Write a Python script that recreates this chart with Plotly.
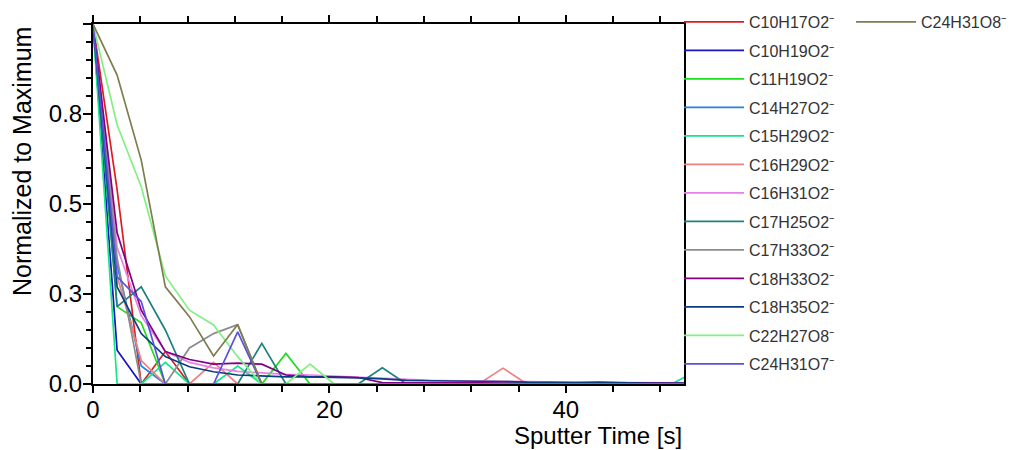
import plotly.graph_objects as go

# Sputter time of each depth-profile cycle [s]
sputter_time = [0, 2.04, 4.08, 6.12, 8.16, 10.2, 12.24, 14.28, 16.32, 18.36, 20.4, 22.44,
                24.48, 26.52, 28.56, 30.6, 32.64, 34.68, 36.72, 38.76, 40.8, 42.84,
                44.88, 46.92, 48.96, 51.0]

# Intensities normalised to each ion's maximum
c10h17o2 = [1.0, 0.54, 0.0, 0.09, 0.0, 0.0, 0.0, 0.0, 0.0, 0.0, 0.0, 0.0, 0.0,
            0.0, 0.0, 0.0, 0.0, 0.0, 0.0, 0.0, 0.0, 0.0, 0.0, 0.0, 0.0, 0.0]
c10h19o2 = [1.0, 0.094, 0.0, 0.0, 0.0, 0.0, 0.0, 0.0, 0.0, 0.0, 0.0, 0.0, 0.0,
            0.0, 0.0, 0.0, 0.0, 0.0, 0.0, 0.0, 0.0, 0.0, 0.0, 0.0, 0.0, 0.0]
c11h19o2 = [1.0, 0.215, 0.17, 0.0, 0.0, 0.0, 0.0, 0.0, 0.085, 0.0, 0.0, 0.0, 0.0,
            0.0, 0.0, 0.0, 0.0, 0.0, 0.0, 0.0, 0.0, 0.0, 0.0, 0.0, 0.0, 0.0]
c14h27o2 = [1.0, 0.33, 0.05, 0.0, 0.0, 0.0, 0.0, 0.0, 0.0, 0.0, 0.0, 0.0, 0.0,
            0.0, 0.0, 0.0, 0.0, 0.0, 0.0, 0.0, 0.0, 0.0, 0.0, 0.0, 0.0, 0.0]
c15h29o2 = [1.0, 0.0, 0.0, 0.06, 0.0, 0.0, 0.05, 0.0, 0.0, 0.0, 0.0, 0.0, 0.0,
            0.0, 0.0, 0.0, 0.0, 0.0, 0.0, 0.0, 0.0, 0.0, 0.0, 0.0, 0.0, 0.035]
c16h29o2 = [1.0, 0.3, 0.065, 0.0, 0.0, 0.06, 0.0, 0.0, 0.0, 0.0, 0.0, 0.0, 0.0,
            0.0, 0.0, 0.0, 0.0, 0.044, 0.0, 0.0, 0.0, 0.0, 0.0, 0.0, 0.0, 0.0]
c16h31o2 = [1.0, 0.38, 0.19, 0.09, 0.06, 0.045, 0.035, 0.03, 0.027, 0.025, 0.022,
            0.02, 0.015, 0.012, 0.01, 0.009, 0.008, 0.006, 0.005, 0.005, 0.004,
            0.004, 0.004, 0.003, 0.003, 0.003]
c17h25o2 = [1.0, 0.215, 0.27, 0.15, 0.0, 0.0, 0.0, 0.113, 0.0, 0.0, 0.0, 0.0, 0.045,
            0.0, 0.0, 0.0, 0.0, 0.0, 0.0, 0.0, 0.0, 0.0, 0.0, 0.0, 0.0, 0.0]
c17h33o2 = [1.0, 0.35, 0.0, 0.0, 0.1, 0.14, 0.165, 0.0, 0.0, 0.0, 0.0, 0.0, 0.0,
            0.0, 0.0, 0.0, 0.0, 0.0, 0.0, 0.0, 0.0, 0.0, 0.0, 0.0, 0.0, 0.0]
c18h33o2 = [1.0, 0.42, 0.205, 0.09, 0.068, 0.055, 0.058, 0.055, 0.025, 0.02, 0.02,
            0.018, 0.004, 0.003, 0.003, 0.003, 0.003, 0.002, 0.002, 0.003, 0.002,
            0.002, 0.003, 0.002, 0.002, 0.002]
c18h35o2 = [1.0, 0.27, 0.14, 0.076, 0.048, 0.034, 0.025, 0.022, 0.02, 0.02, 0.019,
            0.017, 0.014, 0.01, 0.009, 0.009, 0.009, 0.007, 0.005, 0.004, 0.004,
            0.005, 0.003, 0.002, 0.002, 0.002]
c22h27o8 = [1.0, 0.72, 0.548, 0.3, 0.205, 0.164, 0.076, 0.0, 0.0, 0.055, 0.0, 0.0,
            0.0, 0.0, 0.0, 0.0, 0.0, 0.0, 0.0, 0.0, 0.0, 0.0, 0.0, 0.0, 0.0, 0.0]
c24h31o7 = [1.0, 0.298, 0.229, 0.0, 0.0, 0.0, 0.145, 0.0, 0.0, 0.0, 0.0, 0.0, 0.0,
            0.0, 0.0, 0.0, 0.0, 0.0, 0.0, 0.0, 0.0, 0.0, 0.0, 0.0, 0.0, 0.0]
c24h31o8 = [1.0, 0.858, 0.622, 0.27, 0.187, 0.078, 0.165, 0.0, 0.0, 0.0, 0.0, 0.0,
            0.0, 0.0, 0.0, 0.0, 0.0, 0.0, 0.0, 0.0, 0.0, 0.0, 0.0, 0.0, 0.0, 0.0]

ion_names = ["C10H17O2⁻", "C10H19O2⁻", "C11H19O2⁻", "C14H27O2⁻", "C15H29O2⁻",
             "C16H29O2⁻", "C16H31O2⁻", "C17H25O2⁻", "C17H33O2⁻", "C18H33O2⁻",
             "C18H35O2⁻", "C22H27O8⁻", "C24H31O7⁻", "C24H31O8⁻"]
ion_series = [c10h17o2, c10h19o2, c11h19o2, c14h27o2, c15h29o2, c16h29o2, c16h31o2,
              c17h25o2, c17h33o2, c18h33o2, c18h35o2, c22h27o8, c24h31o7, c24h31o8]
ion_colors = ["#dc1e1e", "#1414c0", "#1edc1e", "#1e82e6", "#14e68c", "#f08080",
              "#e682e6", "#1e8080", "#8c8c8c", "#820082", "#0a3c82", "#82f082",
              "#5a50dc", "#7d7d50"]

# y ticks every quarter, labelled to one decimal
y_tickvals = [0, 0.25, 0.5, 0.75, 1.0]
y_ticktext = ["0.0", "0.3", "0.5", "0.8", ""]

FONT = "Liberation Sans, Arial, sans-serif"
W, H = 1015, 450
ROW = 28.5  # legend row pitch in px


def legend_for(i):
    # first column holds 13 entries split over two stacked legend boxes,
    # the last ion sits alone in a second column
    if i == len(ion_names) - 1:
        return "legend2"
    return "legend" if i < 7 else "legend3"


fig = go.Figure()
for i, (name, ys, col) in enumerate(zip(ion_names, ion_series, ion_colors)):
    fig.add_trace(go.Scatter(
        x=sputter_time, y=ys, mode="lines", name=name,
        line=dict(color=col, width=1.7),
        legend=legend_for(i), legendgroup=name,
    ))

legend_common = dict(
    font=dict(family=FONT, size=16, color="#333333"),
    bgcolor="rgba(0,0,0,0)", borderwidth=0,
    itemwidth=60, traceorder="grouped", tracegroupgap=4.7,
    xref="container", yref="container", xanchor="left", yanchor="top",
    itemclick=False, itemdoubleclick=False,
)

top0 = 5
fig.update_layout(
    width=W, height=H,
    margin=dict(l=93, r=331, t=24, b=66, autoexpand=False),
    paper_bgcolor="white", plot_bgcolor="white",
    font=dict(family=FONT, size=24, color="#000000"),
    showlegend=True,
    legend=dict(x=679 / W, y=1 - top0 / H, **legend_common),
    legend3=dict(x=679 / W, y=1 - (top0 + 7 * ROW) / H, **legend_common),
    legend2=dict(x=851 / W, y=1 - top0 / H, **legend_common),
    xaxis=dict(
        range=[0, 50], showgrid=False, zeroline=False,
        tickmode="array", tickvals=[0, 20, 40], ticktext=["0", "20", "40"],
        ticks="outside", ticklen=7, tickwidth=2, tickcolor="black",
        ticklabelstandoff=-4,
        minor=dict(tickmode="array", tickvals=[4, 8, 12, 16, 24, 28, 32, 36, 44, 48],
                   ticks="outside", ticklen=6, tickwidth=1.5, tickcolor="black"),
        showline=True, linecolor="black", linewidth=2, mirror="ticks",
        tickfont=dict(family=FONT, size=24, color="#000000"),
    ),
    yaxis=dict(
        range=[0, 1.0], showgrid=False, zeroline=False,
        tickmode="array", tickvals=y_tickvals, ticktext=y_ticktext,
        ticks="outside", ticklen=8, tickwidth=2, tickcolor="black",
        ticklabelstandoff=-4,
        minor=dict(dtick=0.05, ticks="outside", ticklen=5, tickwidth=1.5,
                   tickcolor="black"),
        showline=True, linecolor="black", linewidth=2, mirror=True,
        tickfont=dict(family=FONT, size=24, color="#000000"),
    ),
    annotations=[
        dict(text="Sputter Time [s]", xref="paper", yref="paper", x=1.0,
             y=(384 - 435) / 360, xanchor="right", yanchor="middle", showarrow=False,
             font=dict(family=FONT, size=24, color="#000000")),
        dict(text="Normalized to Maximum", xref="paper", yref="paper",
             x=-0.120, y=1.0, xanchor="center", yanchor="top", textangle=-90,
             showarrow=False, font=dict(family=FONT, size=25, color="#000000")),
    ],
)

fig.write_html("out.html")
